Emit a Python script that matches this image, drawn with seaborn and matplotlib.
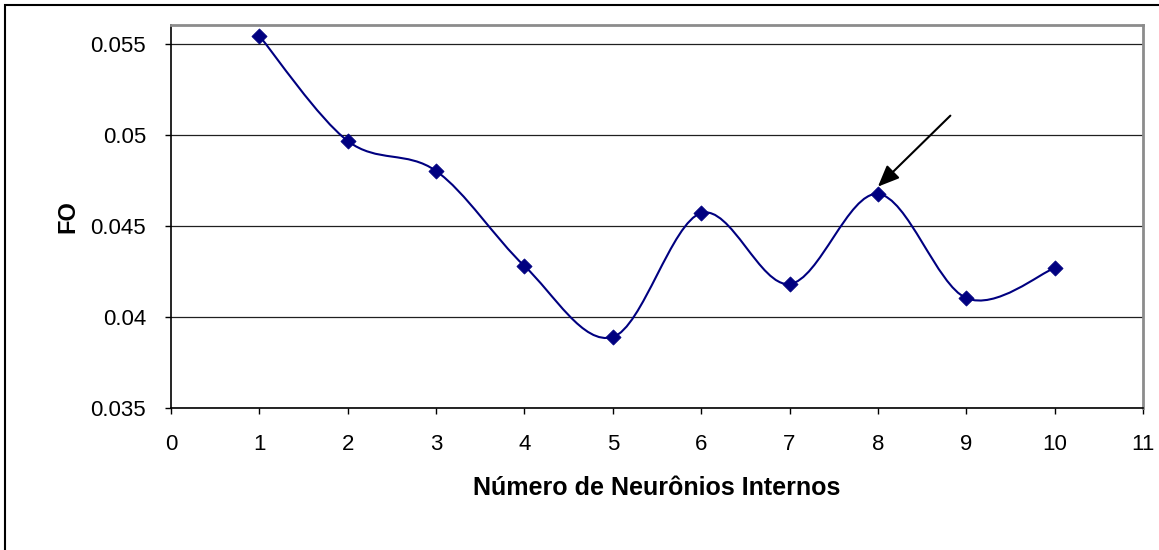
import matplotlib
matplotlib.use("Agg")
import matplotlib.pyplot as plt
import seaborn as sns
import numpy as np
import pandas as pd
from matplotlib.path import Path
from matplotlib.patches import PathPatch, Rectangle

# ---- data ----
neurons = [1, 2, 3, 4, 5, 6, 7, 8, 9, 10]
fo_values = [0.05544, 0.04967, 0.04802, 0.04280, 0.03890,
             0.04571, 0.04181, 0.04676, 0.04104, 0.04269]
x_ticks = [0, 1, 2, 3, 4, 5, 6, 7, 8, 9, 10, 11]
y_ticks = [0.035, 0.04, 0.045, 0.05, 0.055]
y_tick_labels = ["0.035", "0.04", "0.045", "0.05", "0.055"]
x_label = "Número de Neurônios Internos"
y_label = "FO"
highlight = 8

sns.set_style("white")
plt.rcParams['font.family'] = ['Liberation Sans', 'DejaVu Sans']
plt.rcParams['text.color'] = 'black'
plt.rcParams['axes.labelcolor'] = 'black'
plt.rcParams['xtick.color'] = 'black'
plt.rcParams['ytick.color'] = 'black'

navy = "#000080"
fig = plt.figure(figsize=(11.59, 5.5), dpi=100)
ax = fig.add_axes([171/1159, 1-408/550, (1143-171)/1159, (408-25)/550])

df = pd.DataFrame({"n": neurons, "fo": fo_values})

# smoothed line (Excel-style Bezier through data points)
xs = np.array(neurons, dtype=float)
ys = np.array(fo_values, dtype=float)
verts = [(xs[0], ys[0])]
codes = [Path.MOVETO]
n = len(xs)
for i in range(n - 1):
    p0 = np.array([xs[max(i-1, 0)], ys[max(i-1, 0)]])
    p1 = np.array([xs[i], ys[i]])
    p2 = np.array([xs[i+1], ys[i+1]])
    p3 = np.array([xs[min(i+2, n-1)], ys[min(i+2, n-1)]])
    c1 = p1 + (p2 - p0) / 6.0
    c2 = p2 - (p3 - p1) / 6.0
    verts += [tuple(c1), tuple(c2), tuple(p2)]
    codes += [Path.CURVE4] * 3
ax.add_patch(PathPatch(Path(verts, codes), facecolor="none", edgecolor=navy,
                       lw=1.5, zorder=3))

sns.scatterplot(data=df, x="n", y="fo", marker="D", s=60, color=navy,
                edgecolor=navy, linewidth=0.5, ax=ax, zorder=4, legend=False)

ax.set_xlim(0, 11)
ax.set_ylim(0.035, 0.05604)
ax.set_xticks(x_ticks)
ax.set_xticklabels([str(t) for t in x_ticks])
ax.set_yticks(y_ticks)
ax.set_yticklabels(y_tick_labels)
ax.tick_params(axis="both", direction="out", length=4, width=1, color="black",
               labelcolor="black", labelsize=16, pad=14, left=True, bottom=True)
ax.tick_params(axis="x", pad=15)
ax.yaxis.grid(True, color="#202020", lw=0.9)
ax.set_axisbelow(True)

for s in ["left", "bottom"]:
    ax.spines[s].set_color("black")
    ax.spines[s].set_linewidth(1.2)
for s in ["top", "right"]:
    ax.spines[s].set_color("#8c8c8c")
    ax.spines[s].set_linewidth(2)

ax.set_xlabel(x_label, fontsize=18, fontweight="bold", labelpad=15, color="black")
ax.set_ylabel(y_label, fontsize=17, fontweight="bold", labelpad=8, color="black")

# arrow pointing at highlighted point
hy = fo_values[neurons.index(highlight)]
ax.annotate("", xy=(highlight, hy + 0.0004), xytext=(highlight + 0.82, hy + 0.0043),
            arrowprops=dict(arrowstyle="-|>,head_length=1.3,head_width=0.55",
                            color="black", lw=1.5, shrinkA=0, shrinkB=0),
            zorder=5)

# outer chart border (top and left visible)
fig.patches.append(Rectangle((5/1159, -0.05), 1.1, 1 - 5/550 + 0.05,
                             transform=fig.transFigure, fill=False,
                             edgecolor="black", lw=1.5, zorder=0))

fig.savefig("out.png", dpi=100)
